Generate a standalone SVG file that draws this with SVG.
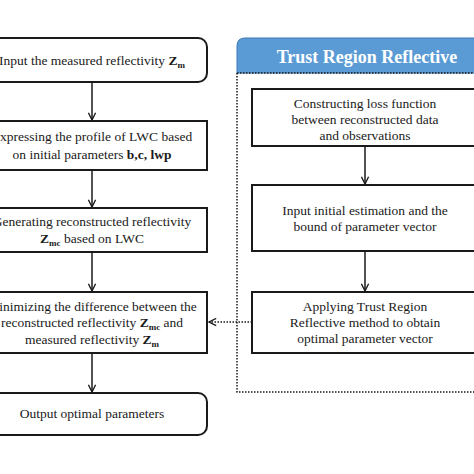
<svg xmlns="http://www.w3.org/2000/svg" width="474" height="474" viewBox="0 0 474 474">
<style>
.box{fill:#fff;stroke:#1a1a1a;stroke-width:2}
.t{font-family:"Liberation Serif","Times New Roman",serif;font-size:13.5px;fill:#1a1a1a;text-anchor:middle}
.b{font-weight:bold}
.s{font-size:9px;font-weight:bold}
.ln{stroke:#1a1a1a;stroke-width:1.5;fill:none}
.dot{stroke:#1a1a1a;stroke-width:1.5;fill:none;stroke-dasharray:1.5 1.5}
</style>
<defs>
<marker id="ah" viewBox="0 0 10 10" refX="9" refY="5" markerWidth="9" markerHeight="9" markerUnits="userSpaceOnUse" orient="auto">
<path d="M1,1 L9,5 L1,9" fill="none" stroke="#1a1a1a" stroke-width="1.5"/>
</marker>
</defs>
<rect width="474" height="474" fill="#fff"/>
<g id="trr-frame">
<path d="M237,73 L237,392 L480,392" class="dot"/>
<path d="M237,73 L237,46 Q237,38 245,38 L490,38 L490,73 Z" fill="#5b9bd5" stroke="#3a78b5" stroke-width="1"/>
<line x1="237" y1="73" x2="480" y2="73" class="dot"/>
<text x="367" y="63" class="t b" style="font-size:18px;fill:#fff">Trust Region Reflective</text>
</g>
<g id="connectors">
<line x1="92" y1="82" x2="92" y2="120" class="ln" marker-end="url(#ah)"/>
<line x1="92" y1="170" x2="92" y2="207" class="ln" marker-end="url(#ah)"/>
<line x1="92" y1="252" x2="92" y2="291" class="ln" marker-end="url(#ah)"/>
<line x1="92" y1="353" x2="92" y2="392" class="ln" marker-end="url(#ah)"/>
<line x1="365" y1="146" x2="365" y2="184" class="ln" marker-end="url(#ah)"/>
<line x1="365" y1="251" x2="365" y2="291" class="ln" marker-end="url(#ah)"/>
<line x1="252" y1="322" x2="209" y2="322" class="dot" stroke-width="1" marker-end="url(#ah)"/>
</g>
<g id="n1">
<rect x="-23" y="38" width="230" height="44" rx="9" class="box"/>
<text x="92" y="65" class="t">Input the measured reflectivity <tspan class="b">Z</tspan><tspan class="s" dy="3">m</tspan></text>
</g>
<g id="n2">
<rect x="-23" y="121" width="230" height="49" class="box"/>
<text x="92" y="141" class="t">Expressing the profile of LWC based</text>
<text x="92" y="159" class="t">on initial parameters <tspan class="b">b,c, lwp</tspan></text>
</g>
<g id="n3">
<rect x="-23" y="208" width="230" height="44" class="box"/>
<text x="92" y="226" class="t">Generating reconstructed reflectivity</text>
<text x="92" y="243" class="t"><tspan class="b">Z</tspan><tspan class="s" dy="3">mc</tspan><tspan dy="-3"> based on LWC</tspan></text>
</g>
<g id="n4">
<rect x="-23" y="292" width="230" height="61" class="box"/>
<text x="92" y="311" class="t">Minimizing the difference between the</text>
<text x="92" y="327" class="t">reconstructed reflectivity <tspan class="b">Z</tspan><tspan class="s" dy="3">mc</tspan><tspan dy="-3"> and</tspan></text>
<text x="92" y="344" class="t">measured reflectivity <tspan class="b">Z</tspan><tspan class="s" dy="3">m</tspan></text>
</g>
<g id="n5">
<rect x="-23" y="393" width="230" height="42" rx="9" class="box"/>
<text x="92" y="418" class="t">Output optimal parameters</text>
</g>
<g id="r1">
<rect x="252" y="89" width="226" height="57" class="box"/>
<text x="365" y="108" class="t">Constructing loss function</text>
<text x="365" y="124" class="t">between reconstructed data</text>
<text x="365" y="140" class="t">and observations</text>
</g>
<g id="r2">
<rect x="252" y="185" width="226" height="66" class="box"/>
<text x="365" y="215" class="t">Input initial estimation and the</text>
<text x="365" y="231" class="t">bound of parameter vector</text>
</g>
<g id="r3">
<rect x="252" y="292" width="226" height="61" class="box"/>
<text x="365" y="311" class="t">Applying Trust Region</text>
<text x="365" y="327" class="t">Reflective method to obtain</text>
<text x="365" y="343" class="t">optimal parameter vector</text>
</g>
</svg>
